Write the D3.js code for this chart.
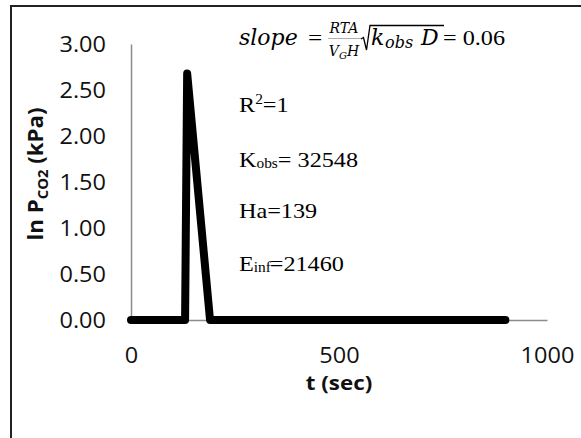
<!DOCTYPE html>
<html><head><meta charset="utf-8">
<script src="https://cdn.jsdelivr.net/npm/d3@7"></script>
<style>body{margin:0;background:#fff}svg{display:block}</style>
</head><body>
<svg id="c" width="581" height="438"></svg>
<script>
const tValues = [0, 130, 135, 190, 900];
const lnP = [0, 0, 2.68, 0, 0];
const xTicks = [0, 500, 1000];
const yTicks = [0, 0.5, 1.0, 1.5, 2.0, 2.5, 3.0];

const svg = d3.select("#c");
svg.append("rect").attr("x",11).attr("y",6).attr("width",640).attr("height",500)
  .attr("fill","#fff").attr("stroke","#222").attr("stroke-width",2);

const x = d3.scaleLinear().domain([0,1000]).range([131,547]);
const y = d3.scaleLinear().domain([0,3]).range([320,44]);
const tickFont = "'Open Sans', sans-serif";
const SX = 1.12;

const ya = svg.append("g").attr("transform","translate(131,0)")
  .call(d3.axisLeft(y).tickValues(yTicks).tickFormat(d3.format(".2f")).tickSize(0).tickSizeOuter(0));
const xa = svg.append("g").attr("transform","translate(0,320)")
  .call(d3.axisBottom(x).tickValues(xTicks).tickFormat(d3.format("d")).tickSize(0).tickSizeOuter(0));
[ya, xa].forEach(a => {
  a.select(".domain").attr("stroke","#8c8c8c").attr("stroke-width",1.5);
  a.selectAll("text").attr("font-family",tickFont).attr("font-size",21).attr("fill","#111");
});
ya.selectAll(".tick text").attr("x",0).attr("dy","0.34em").attr("transform",`translate(-25,0) scale(${SX},1)`);
xa.selectAll(".tick text").attr("y",0).attr("dy",null).attr("transform",`translate(0,43) scale(${SX},1)`);

const pts = tValues.map((t,i)=>[t,lnP[i]]);
svg.append("path").datum(pts)
  .attr("d", d3.line().x(d=>x(d[0])).y(d=>y(d[1])))
  .attr("fill","none").attr("stroke","#000").attr("stroke-width",8)
  .attr("stroke-linecap","round").attr("stroke-linejoin","round");

// axis titles
svg.append("text").attr("transform",`translate(339,390) scale(${SX},1)`).attr("text-anchor","middle")
  .attr("font-family",tickFont).attr("font-weight","bold").attr("font-size",20).attr("fill","#111")
  .text("t (sec)");
const yt = svg.append("text").attr("transform","translate(43,174) rotate(-90) scale(1.06,1)").attr("text-anchor","middle")
  .attr("font-family",tickFont).attr("font-weight","bold").attr("font-size",21).attr("fill","#111");
yt.append("tspan").text("ln P");
yt.append("tspan").attr("font-size",14).attr("dy",5).text("CO2");
yt.append("tspan").attr("dy",-5).text(" (kPa)");

// formula
const serif = "'Liberation Serif', 'Times New Roman', serif";
const mathF = "'DejaVu Serif', serif";
function t(px, py, size, opts = {}) {
  return svg.append("text").attr("x",px).attr("y",py).attr("font-size",size)
    .attr("font-family", opts.math ? mathF : serif)
    .attr("font-style", opts.math ? "italic" : "normal")
    .attr("text-anchor", opts.anchor || "start").attr("fill","#000");
}
t(239,45,22,{math:true}).text("slope");
t(308,45,22).attr("transform","translate(308,45) scale(1.15,1) translate(-308,-45)").text("=");
t(344,33,14,{math:true,anchor:"middle"}).text("RTA");
const den = t(344,56,14,{math:true,anchor:"middle"});
den.append("tspan").text("V");
den.append("tspan").attr("font-size",10).attr("dy",3).text("G");
den.append("tspan").attr("dy",-3).text("H");
svg.append("line").attr("x1",328).attr("x2",361).attr("y1",38.5).attr("y2",38.5).attr("stroke","#777").attr("stroke-width",0.6);
svg.append("path").attr("d","M361,39 L363.5,37.5 L366.5,50 L370,25.5 L444,25.5")
  .attr("fill","none").attr("stroke","#000").attr("stroke-width",1.3);
t(371,45,22,{math:true}).text("k");
t(385,48,16,{math:true}).text("obs");
t(421,45,22,{math:true}).text("D");
t(443,45,22).attr("transform","translate(443,45) scale(1.1,1) translate(-443,-45)").text("= 0.06");

// annotations
const baseY = [112, 167, 218, 271];
function ann(py) {
  return svg.append("text").attr("transform",`translate(239,${py}) scale(1.1,1)`)
    .attr("font-family",serif).attr("font-size",22).attr("fill","#000");
}
const r = ann(baseY[0]);
r.append("tspan").text("R");
r.append("tspan").attr("font-size",14).attr("dy",-8).text("2");
r.append("tspan").attr("dy",8).text("=1");
const k = ann(baseY[1]);
k.append("tspan").text("K");
k.append("tspan").attr("font-size",14).attr("dy",1).text("obs");
k.append("tspan").attr("dy",-1).text("= 32548");
ann(baseY[2]).text("Ha=139");
const e = ann(baseY[3]);
e.append("tspan").text("E");
e.append("tspan").attr("font-size",14).attr("dy",1).text("inf");
e.append("tspan").attr("dy",-1).attr("dx",-1).text("=21460");
</script>
</body></html>
